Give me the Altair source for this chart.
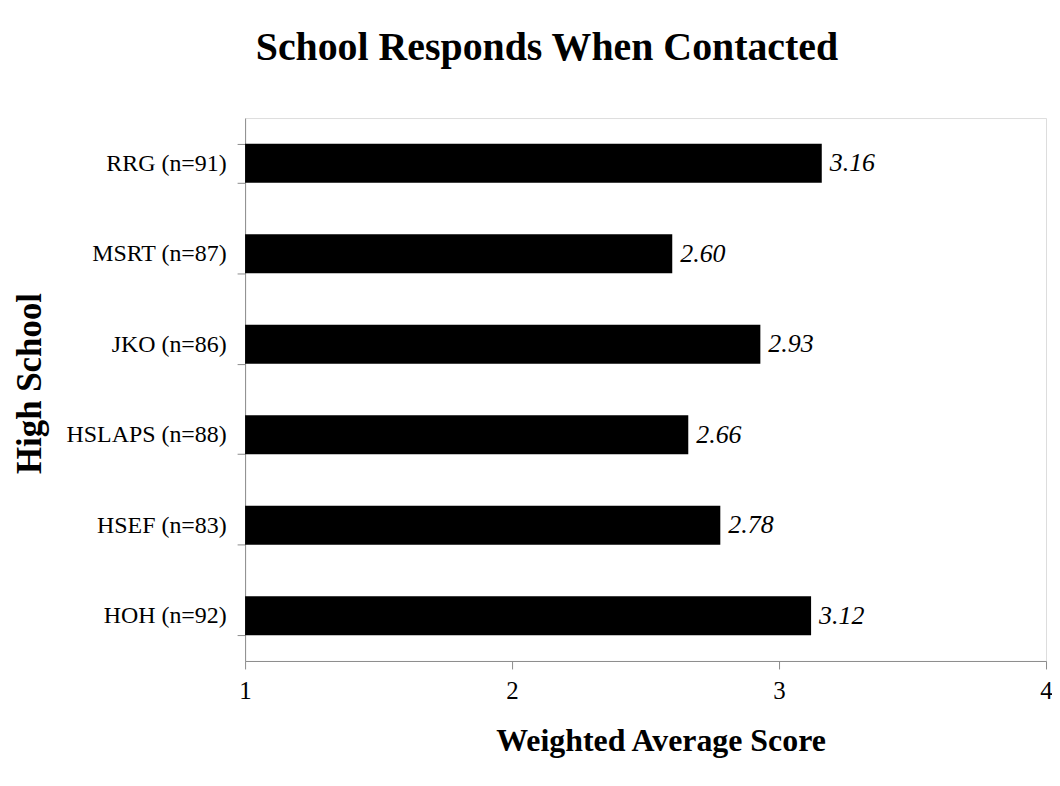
import altair as alt
import pandas as pd

schools = ["RRG (n=91)", "MSRT (n=87)", "JKO (n=86)", "HSLAPS (n=88)", "HSEF (n=83)", "HOH (n=92)"]
scores = [3.16, 2.60, 2.93, 2.66, 2.78, 3.12]

df = pd.DataFrame({"school": schools, "score": scores})

FONT = "Liberation Serif"
GRAY = "#8c8c8c"

y_enc = alt.Y(
    "school:N",
    sort=schools,
    title="High School",
    scale=alt.Scale(paddingInner=0.57, paddingOuter=0.285),
    axis=alt.Axis(
        tickBand="extent",
        grid=False,
        labelFont=FONT,
        labelFontSize=24,
        labelColor="black",
        labelPadding=11,
        tickSize=8,
        tickColor=GRAY,
        domainColor=GRAY,
        titleFont=FONT,
        titleFontSize=35,
        titleFontWeight="bold",
        titleColor="black",
        titleBaseline="middle",
        titleX=-216,
        titleY=266,
    ),
)
x_enc = alt.X(
    "score:Q",
    title="Weighted Average Score",
    scale=alt.Scale(domain=[1, 4], zero=False, nice=False),
    axis=alt.Axis(
        values=[1, 2, 3, 4],
        format="d",
        grid=False,
        labelFlush=False,
        labelFont=FONT,
        labelFontSize=25,
        labelColor="black",
        labelPadding=10,
        tickSize=8,
        tickColor=GRAY,
        domainColor=GRAY,
        titleFont=FONT,
        titleFontSize=32,
        titleFontWeight="bold",
        titleColor="black",
        titleBaseline="middle",
        titleX=417,
        titleY=80,
    ),
)

bars = alt.Chart(df).mark_bar(color="black").encode(
    y=y_enc,
    x=x_enc,
    x2=alt.datum(1),
)

labels = alt.Chart(df).mark_text(
    align="left", baseline="middle", dx=8, fontSize=26, fontStyle="italic", font=FONT, color="black"
).encode(
    y=alt.Y("school:N", sort=schools),
    x=alt.X("score:Q"),
    text=alt.Text("score:Q", format=".2f"),
)

chart = (
    alt.layer(bars, labels)
    .properties(
        width=804,
        height=545,
        title=alt.TitleParams(
            "School Responds When Contacted",
            font=FONT,
            fontSize=40,
            fontWeight="bold",
            color="black",
            anchor="middle",
            dx=-99,
            offset=38,
        ),
        autosize=alt.AutoSizeParams(type="none"),
        padding={"left": 238, "top": 109, "right": 6, "bottom": 115},
    )
    .configure_view(stroke=None)
    .configure(background="white")
)

chart.save("out.html", embed_options={"renderer": "svg", "actions": False})
